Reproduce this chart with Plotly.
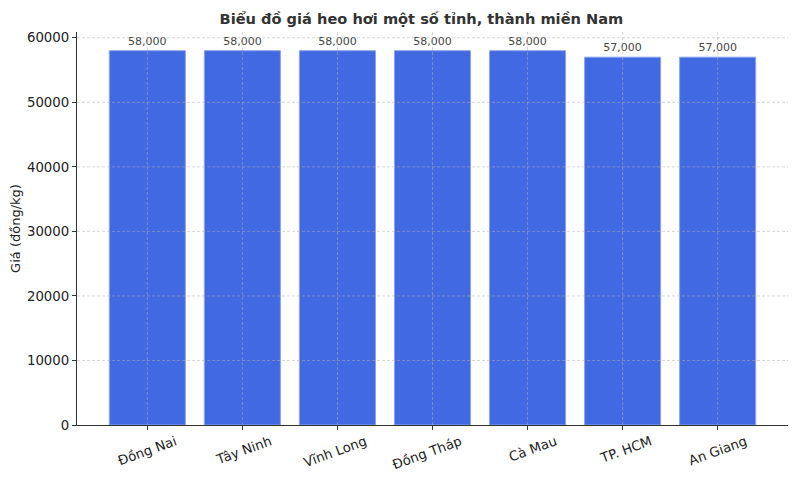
import plotly.graph_objects as go

# Giá heo hơi (đồng/kg)
provinces = ["Đồng Nai", "Tây Ninh", "Vĩnh Long", "Đồng Tháp", "Cà Mau", "TP. HCM", "An Giang"]
prices = [58000, 58000, 58000, 58000, 58000, 57000, 57000]
y_ticks = [0, 10000, 20000, 30000, 40000, 50000, 60000]

x_pos = list(range(len(provinces)))

fig = go.Figure(go.Bar(
    x=x_pos,
    y=prices,
    width=0.8,
    marker=dict(color="#4169E1", line=dict(color="#8aa3ee", width=1)),
    text=[f"{p:,}" for p in prices],
    textposition="outside",
    textfont=dict(family="DejaVu Sans", size=11, color="#444444"),
    cliponaxis=False,
))

# matplotlib-style dashed grid drawn over the bars
grid_line = dict(color="rgba(176,176,176,0.65)", width=0.8, dash="3px,2px")
for xv in x_pos:
    fig.add_shape(type="line", xref="x", yref="paper", x0=xv, x1=xv, y0=0, y1=1,
                  line=grid_line, layer="above")
for yv in y_ticks[1:]:
    fig.add_shape(type="line", xref="paper", yref="y", x0=0, x1=1, y0=yv, y1=yv,
                  line=grid_line, layer="above")

# page body has an 8px margin, so the figure is a bit smaller than the window
fig.update_layout(
    width=792, height=472,
    margin=dict(l=69, r=12, t=24, b=55),
    paper_bgcolor="white", plot_bgcolor="white",
    font=dict(family="DejaVu Sans", size=12, color="#222222"),
    title=dict(text="<b>Biểu đồ giá heo hơi một số tỉnh, thành miền Nam</b>",
               x=0.522, xanchor="center", y=0.987, yanchor="top",
               font=dict(size=14.6, color="#333333")),
    showlegend=False,
)
fig.update_xaxes(
    range=[-0.74, 6.74], automargin=False,
    tickvals=x_pos, ticktext=provinces,
    tickangle=-20, ticks="outside", ticklen=4, tickcolor="#333333",
    ticklabelshift=28, ticklabelstandoff=-1,
    showline=True, linecolor="#333333", linewidth=1.2,
    showgrid=False, zeroline=False,
    tickfont=dict(size=13.3),
)
fig.update_yaxes(
    range=[0, 60900], automargin=False,
    tickvals=y_ticks, ticktext=[str(v) for v in y_ticks],
    ticks="outside", ticklen=4, tickcolor="#333333",
    showline=True, linecolor="#333333", linewidth=1.2,
    showgrid=False, zeroline=False,
    tickfont=dict(size=13.3),
    title=dict(text="Giá (đồng/kg)", font=dict(size=13), standoff=7),
)

fig.write_html("out.html")
